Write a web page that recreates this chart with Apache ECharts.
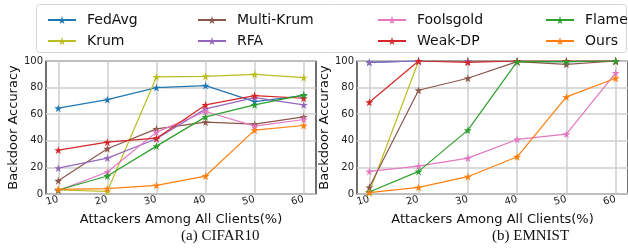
<!DOCTYPE html>
<html>
<head>
<meta charset="utf-8">
<script src="https://cdn.jsdelivr.net/npm/echarts@6/dist/echarts.min.js"></script>
<style>
  html, body { margin: 0; padding: 0; background: #fff; }
  #chart { width: 628px; height: 252px; }
</style>
</head>
<body>
<div id="chart"></div>
<script>
// x positions (% attackers)
const attackers = [10, 20, 30, 40, 50, 60];
const yTicks = [0, 20, 40, 60, 80, 100];
const methods = ['FedAvg', 'Krum', 'Multi-Krum', 'RFA', 'Foolsgold', 'Weak-DP', 'Flame', 'Ours'];
const colors = ['#1f77b4', '#bcbd22', '#8c564b', '#9467bd', '#e377c2', '#d62728', '#2ca02c', '#ff7f0e'];

// CIFAR10
const cifarFedAvg = [64.5, 71, 80, 81.5, 69.5, 74];
const cifarKrum = [3, 2, 88, 88.5, 90, 87.5];
const cifarMultiKrum = [10, 34, 49, 54, 52.5, 58];
const cifarRFA = [19.5, 27, 41.5, 64, 72.5, 67];
const cifarFoolsgold = [2.5, 16.5, 46.5, 62, 51, 56];
const cifarWeakDP = [33, 39, 42, 67, 74, 72];
const cifarFlame = [3, 13.5, 36, 58, 67, 74.5];
const cifarOurs = [3.5, 4, 6.5, 13.5, 48, 51.5];

// EMNIST
const emnistFedAvg = [99, 100, 100, 99.5, 99.5, 100];
const emnistKrum = [1.5, 100, 100, 100, 100, 100];
const emnistMultiKrum = [5, 78, 87, 99.5, 97.5, 100];
const emnistRFA = [99, 100, 100, 100, 100, 100];
const emnistFoolsgold = [17, 21, 27, 41, 45, 91];
const emnistWeakDP = [69, 100, 99, 100, 100, 100];
const emnistFlame = [1.5, 17, 48, 99.5, 99.5, 100];
const emnistOurs = [1, 5, 13, 28, 73, 87];

const cifarData = [cifarFedAvg, cifarKrum, cifarMultiKrum, cifarRFA, cifarFoolsgold, cifarWeakDP, cifarFlame, cifarOurs];
const emnistData = [emnistFedAvg, emnistKrum, emnistMultiKrum, emnistRFA, emnistFoolsgold, emnistWeakDP, emnistFlame, emnistOurs];

const star = 'path://M50,0 L61,35 L98,35 L68,57 L79,91 L50,70 L21,91 L32,57 L2,35 L39,35 Z';
const font = 'DejaVu Sans';

function makeX (gridIndex) {
  return {
    type: 'value', gridIndex: gridIndex, min: 7.5, max: 62.5,
    axisLine: { show: false },
    axisTick: { show: false, customValues: attackers },
    axisLabel: {
      customValues: attackers, rotate: 15, margin: 5,
      fontFamily: font, fontSize: 10, color: '#222'
    },
    splitLine: { show: true, lineStyle: { color: '#cfcfcf', width: 1.5 } },
    name: 'Attackers Among All Clients(%)',
    nameLocation: 'middle', nameGap: 18,
    nameTextStyle: { fontFamily: font, fontSize: 13, color: '#111' }
  };
}

function makeY (gridIndex) {
  return {
    type: 'value', gridIndex: gridIndex, min: 0, max: 100, interval: 20,
    axisLine: { show: false },
    axisTick: { show: false },
    axisLabel: { margin: 3, fontFamily: font, fontSize: 10, color: '#222' },
    splitLine: { show: true, lineStyle: { color: '#cfcfcf', width: 1.5 } },
    name: 'Backdoor Accuracy',
    nameLocation: 'middle', nameGap: 24,
    nameTextStyle: { fontFamily: font, fontSize: 13, color: '#111' }
  };
}

const series = [];
[cifarData, emnistData].forEach((set, g) => {
  set.forEach((vals, i) => {
    series.push({
      name: methods[i],
      type: 'line',
      xAxisIndex: g, yAxisIndex: g,
      data: vals.map((v, k) => [attackers[k], v]),
      symbol: star, symbolSize: 8,
      showSymbol: true,
      lineStyle: { width: 1.2, color: colors[i] },
      itemStyle: { color: colors[i] },
      emphasis: { disabled: true },
      animation: false,
      z: 2 + i
    });
  });
});

// legend: 4 columns, 2 rows each
const legendCols = [42, 192, 372, 540];
const legends = legendCols.map((left, c) => ({
  orient: 'vertical',
  left: left, top: 8,
  itemWidth: 28, itemHeight: 10, itemGap: 7,
  data: [methods[c * 2], methods[c * 2 + 1]],
  textStyle: { fontFamily: font, fontSize: 14, color: '#111', padding: [0, 0, 0, 6] },
  selectedMode: false
}));

const option = {
  animation: false,
  color: colors,
  grid: [
    { left: 46, right: 312, top: 61, bottom: 58, show: true, borderColor: '#111', borderWidth: 1.2, backgroundColor: 'transparent' },
    { left: 357, right: 0, top: 61, bottom: 58, show: true, borderColor: '#111', borderWidth: 1.2, backgroundColor: 'transparent' }
  ],
  xAxis: [makeX(0), makeX(1)],
  yAxis: [makeY(0), makeY(1)],
  legend: legends,
  graphic: [
    {
      type: 'rect', z: -1,
      shape: { x: 36.5, y: 4.5, width: 590, height: 48, r: 3 },
      style: { fill: '#fff', stroke: '#d4d4d4', lineWidth: 1 }
    },
    {
      type: 'text', left: 181, top: 229,
      style: { text: '(a) CIFAR10', fontFamily: 'Liberation Serif', fontSize: 15, fill: '#111', textAlign: 'center' }
    },
    {
      type: 'text', left: 492, top: 229,
      style: { text: '(b) EMNIST', fontFamily: 'Liberation Serif', fontSize: 15, fill: '#111', textAlign: 'center' }
    }
  ],
  series: series
};

const chart = echarts.init(document.getElementById('chart'));
chart.setOption(option);
window.addEventListener('resize', () => chart.resize());
</script>
</body>
</html>
